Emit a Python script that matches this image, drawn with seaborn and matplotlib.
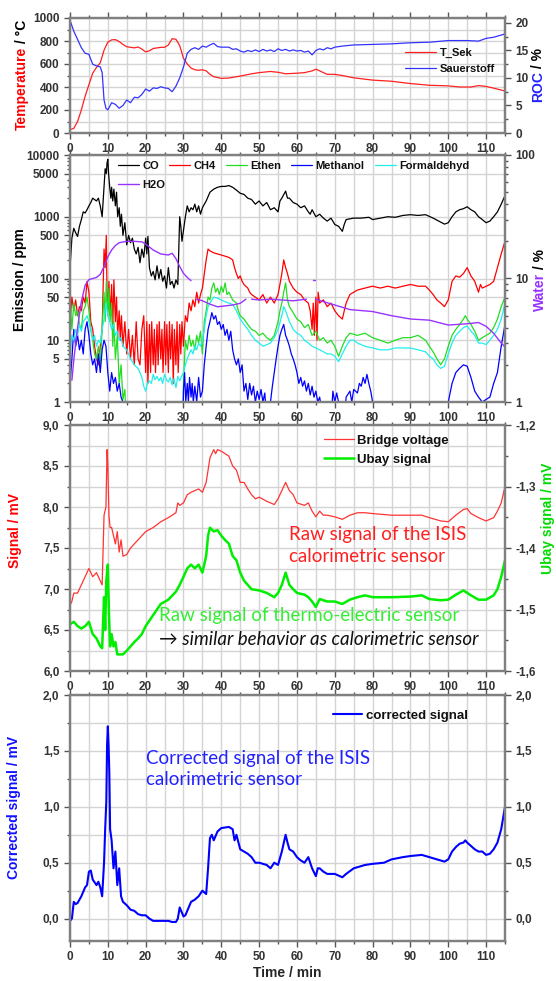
import numpy as np
import pandas as pd
import matplotlib
matplotlib.use('Agg')
import matplotlib.pyplot as plt
import seaborn as sns
from matplotlib.ticker import MultipleLocator, FixedLocator, FuncFormatter, NullFormatter

sns.set_style('ticks')
plt.rcParams['font.family'] = ['Liberation Sans', 'DejaVu Sans']
plt.rcParams['font.weight'] = 'bold'

# ---- panel 1: temperature / oxygen ----
T_SEK = [(0, 30), (1, 40), (2, 100), (3, 200), (4, 320), (5, 420), (6, 520), (7, 570), (8, 610),
         (9, 720), (10, 790), (11, 810), (12, 812), (13, 795), (14, 770), (15, 750), (16, 745),
         (17, 740), (18, 748), (19, 730), (20, 705), (21, 715), (22, 735), (23, 740), (24, 745),
         (25, 745), (26, 765), (27, 820), (28, 815), (29, 760), (30, 650), (31, 600), (32, 565),
         (33, 550), (34, 545), (35, 550), (36, 540), (37, 510), (38, 490), (40, 475), (42, 478),
         (45, 495), (48, 515), (50, 525), (53, 535), (55, 528), (57, 515), (60, 520), (62, 525),
         (64, 540), (65, 555), (66, 540), (68, 510), (70, 510), (72, 500), (75, 480), (80, 460),
         (85, 450), (90, 430), (95, 415), (100, 410), (103, 400), (106, 400), (108, 412),
         (110, 405), (112, 390), (115, 365)]
SAUERSTOFF = [(0, 20.5), (1, 18.5), (2, 17), (3, 15.5), (4, 14.5), (5, 14.3), (6, 12.5), (7, 12.2),
              (8, 12), (8.5, 11), (9, 6), (9.5, 4.5), (10, 4.2), (11, 5.5), (12, 5.2), (13, 4.5),
              (14, 5), (15, 6), (16, 5.5), (17, 6.5), (18, 6.4), (19, 7), (20, 8), (21, 7.6),
              (22, 8.2), (23, 8.1), (24, 8.4), (25, 8.2), (26, 8.1), (27, 7.5), (28, 8.5), (29, 10),
              (30, 12), (31, 14.5), (32, 15.2), (33, 15.5), (34, 15.2), (35, 15.8), (36, 15.6),
              (37, 16), (38, 16.3), (39, 15.7), (40, 15.6), (42, 15.6), (43, 15.2), (44, 15.3),
              (45, 14.9), (46, 14.7), (47, 15), (48, 14.8), (49, 15.1), (50, 14.8), (51, 15.2),
              (52, 14.9), (53, 15.1), (54, 14.8), (55, 15.3), (56, 15), (57, 15.2), (58, 14.9),
              (59, 15.1), (60, 14.9), (61, 15), (62, 14.7), (63, 14.9), (64, 14.2), (65, 15),
              (66, 15.3), (67, 15.1), (68, 15.5), (69, 15.3), (70, 15.6), (72, 15.8), (75, 16),
              (80, 16.1), (85, 16.2), (90, 16.4), (95, 16.5), (100, 16.8), (105, 16.8),
              (108, 16.7), (110, 17.2), (112, 17.4), (115, 18)]

# ---- panel 2: emissions (ppm) and water (%) ----
CO = [(0, 150), (0.5, 450), (1, 650), (1.5, 550), (2, 480), (2.5, 700), (3, 900), (3.5, 1200),
      (4, 1150), (4.5, 1300), (5, 1500), (5.5, 1700), (6, 2000), (6.5, 1900), (7, 1800), (7.5, 2000),
      (8, 1500), (8.5, 1000), (9, 3000), (9.3, 6000), (9.6, 5000), (9.8, 7500), (10, 8500),
      (10.2, 5000), (10.5, 3000), (10.8, 2000), (11, 3000), (11.3, 1800), (11.6, 2800), (12, 1500),
      (12.3, 2500), (12.6, 1000), (13, 1400), (13.3, 700), (13.6, 1100), (14, 500), (14.5, 800),
      (15, 350), (15.5, 500), (16, 380), (16.5, 450), (17, 300), (17.5, 250), (18, 320), (18.5, 180),
      (19, 300), (19.5, 220), (20, 450), (20.3, 250), (20.6, 480), (21, 150), (21.5, 110), (22, 130),
      (22.5, 95), (23, 160), (23.5, 100), (24, 140), (24.5, 90), (25, 110), (25.5, 70), (26, 150),
      (26.5, 80), (27, 90), (27.5, 70), (28, 95), (28.5, 80), (29, 1000), (29.3, 700), (29.6, 400),
      (30, 600), (30.5, 1000), (31, 1500), (31.5, 1200), (32, 1400), (32.5, 1300), (33, 1600),
      (33.5, 1200), (34, 1500), (34.5, 1100), (35, 1400), (36, 1800), (37, 2500), (38, 2800),
      (39, 3000), (40, 3100), (41, 3100), (42, 3200), (43, 3000), (44, 2700), (45, 2400), (46, 2300),
      (47, 2000), (48, 1900), (49, 1600), (50, 1800), (51, 1500), (52, 1700), (53, 1300), (54, 1400),
      (55, 1200), (55.5, 1800), (56, 2000), (57, 2600), (57.5, 2000), (58, 2000), (59, 1700),
      (60, 1600), (61, 1400), (62, 1500), (63, 1200), (63.5, 1100), (64, 1300), (65, 1000),
      (66, 1100), (67, 950), (68, 850), (69, 950), (70, 750), (71, 700), (72, 580), (72.5, 750),
      (73, 900), (75, 950), (77, 950), (79, 980), (80, 900), (82, 950), (84, 1000), (86, 980),
      (88, 1050), (90, 1080), (92, 1050), (94, 1080), (96, 950), (98, 820), (99, 760), (100, 800),
      (101, 1000), (102, 1200), (103, 1300), (104, 1350), (105, 1450), (106, 1300), (107, 1200),
      (108, 1000), (109, 900), (110, 800), (111, 850), (112, 1000), (113, 1200), (114, 1600),
      (115, 2200)]
CH4 = [(0, 20), (0.5, 50), (1, 30), (1.5, 45), (2, 25), (2.5, 35), (3, 30), (3.5, 50), (4, 40),
       (4.5, 90), (5, 60), (5.5, 20), (6, 15), (6.5, 8), (7, 5), (7.5, 4), (8, 8), (8.5, 15), (9, 300),
       (9.3, 150), (9.6, 500), (9.8, 50), (10, 30), (10.3, 90), (10.6, 25), (11, 80), (11.3, 15),
       (11.6, 95), (12, 20), (12.3, 50), (12.6, 12), (13, 30), (13.3, 10), (13.6, 25), (14, 8),
       (14.5, 20), (15, 6), (15.5, 15), (16, 5), (16.5, 12), (17, 4), (17.5, 20), (18, 5), (18.5, 4),
       (19, 15), (19.5, 25), (20, 3), (20.3, 20), (20.6, 2), (21, 18), (21.3, 3), (21.6, 20), (22, 4),
       (22.3, 15), (22.6, 3), (23, 18), (23.3, 4), (23.6, 20), (24, 5), (24.3, 15), (24.6, 3),
       (25, 20), (25.3, 4), (25.6, 18), (26, 3), (26.3, 20), (26.6, 5), (27, 18), (27.3, 2),
       (27.6, 15), (28, 4), (28.3, 20), (28.6, 3), (29, 18), (29.3, 6), (29.6, 20), (30, 8),
       (30.5, 25), (31, 20), (31.5, 40), (32, 30), (32.5, 45), (33, 35), (33.5, 60), (34, 40),
       (34.5, 55), (35, 70), (35.5, 120), (36, 200), (36.5, 300), (37, 280), (38, 260), (39, 250),
       (40, 240), (41, 230), (42, 220), (43, 200), (43.5, 150), (44, 120), (44.5, 100), (45, 110),
       (45.5, 90), (46, 80), (47, 70), (47.5, 60), (48, 55), (49, 50), (50, 45), (51, 55), (52, 40),
       (53, 50), (54, 40), (55, 55), (55.5, 80), (56, 120), (56.5, 200), (57, 150), (57.5, 120),
       (58, 90), (59, 70), (60, 60), (61, 55), (62, 45), (63, 40), (63.5, 30), (64, 15), (64.3, 40),
       (64.6, 12), (65, 50), (65.3, 10), (65.6, 60), (66, 40), (67, 45), (68, 35), (69, 40), (70, 30),
       (71, 25), (72, 22), (72.5, 30), (73, 40), (74, 55), (75, 60), (76, 65), (78, 70), (80, 75),
       (82, 70), (84, 75), (86, 70), (88, 75), (90, 80), (92, 75), (94, 75), (95, 65), (96, 55),
       (97, 45), (98, 40), (99, 35), (100, 45), (101, 90), (102, 110), (103, 105), (104, 120),
       (105, 150), (106, 110), (107, 90), (108, 60), (108.5, 80), (109, 70), (110, 75), (111, 80),
       (112, 90), (113, 150), (114, 250), (115, 400)]
ETHEN = [(0, 50), (0.5, 15), (1, 40), (1.5, 25), (2, 30), (2.5, 18), (3, 15), (3.5, 30), (4, 35),
         (4.5, 50), (5, 30), (5.5, 15), (6, 10), (6.5, 6), (7, 5), (7.5, 8), (8, 4), (8.5, 15), (9, 60),
         (9.3, 20), (9.6, 90), (10, 25), (10.3, 70), (10.6, 20), (11, 40), (11.3, 8), (11.6, 20),
         (12, 5), (12.5, 12), (13, 2), (13.5, 4), (14, 1.1), (14.5, 1.6), (15, 0.3), (29.8, 0.3),
         (30, 2), (30.5, 10), (31, 7), (31.5, 12), (32, 8), (32.5, 10), (33, 7), (33.5, 12), (34, 9),
         (34.5, 14), (35, 6), (35.5, 20), (36, 30), (36.5, 50), (37, 45), (37.5, 70), (38, 85),
         (38.5, 60), (39, 70), (39.5, 55), (40, 75), (40.5, 60), (41, 85), (41.5, 55), (42, 60),
         (43, 45), (44, 40), (44.5, 30), (45, 25), (46, 22), (47, 18), (48, 15), (49, 14), (50, 12),
         (51, 13), (52, 11), (53, 10), (54, 12), (55, 20), (55.5, 30), (56, 40), (56.5, 60), (57, 85),
         (57.5, 45), (58, 35), (59, 28), (60, 22), (61, 20), (62, 16), (63, 18), (64, 12), (65, 14),
         (66, 10), (67, 11), (68, 9), (69, 10), (70, 8), (71, 5.5), (72, 8), (73, 11), (74, 13),
         (76, 12), (78, 13), (80, 11), (82, 10), (84, 9), (86, 10), (88, 11), (90, 11), (92, 12),
         (94, 10), (95, 8), (96, 6.5), (97, 5), (98, 4), (98.5, 4.5), (99, 5), (100, 8), (101, 12),
         (102, 15), (103, 18), (104, 22), (104.5, 25), (105, 22), (106, 18), (107, 14), (108, 10),
         (109, 11), (110, 12), (111, 13), (112, 16), (113, 22), (114, 35), (115, 50)]
METHANOL = [(0, 2), (0.5, 5), (1, 15), (1.5, 8), (2, 12), (2.5, 7), (3, 10), (3.5, 6), (4, 15),
            (4.5, 20), (5, 12), (5.5, 6), (6, 4), (6.5, 5), (7, 3), (7.5, 6), (8, 3), (8.5, 7), (9, 10),
            (9.5, 8), (10, 3), (10.5, 1.5), (11, 3), (11.5, 2), (12, 2.5), (12.5, 1.5), (13, 2),
            (13.5, 1.2), (14, 1), (14.5, 0.3), (29.8, 0.3), (30, 1.5), (30.3, 3), (30.6, 1), (31, 2),
            (31.3, 1), (31.6, 2.5), (32, 1.2), (32.3, 2), (32.6, 1), (33, 1.8), (33.5, 1), (34, 2.5),
            (34.5, 1.2), (35, 1.5), (35.5, 4), (36, 8), (36.5, 15), (37, 20), (37.5, 28), (38, 22),
            (38.5, 25), (39, 18), (39.5, 20), (40, 15), (40.5, 18), (41, 12), (41.5, 15), (42, 10),
            (42.5, 14), (43, 7), (43.5, 5), (44, 4), (44.5, 5), (45, 3), (45.5, 4), (46, 1.5),
            (46.5, 2), (47, 1.1), (47.5, 2), (48, 1.3), (48.5, 1.8), (49, 1), (49.5, 1.5), (50, 1.1),
            (50.5, 1.6), (51, 1), (51.5, 1.4), (52, 0.5), (53, 1), (53.5, 1.8), (54, 3), (54.5, 5),
            (55, 8), (55.5, 12), (56, 15), (56.5, 18), (57, 12), (57.5, 10), (58, 8), (58.5, 6),
            (59, 5), (59.5, 4), (60, 3), (60.5, 2), (61, 2.5), (61.5, 1.8), (62, 2.2), (62.5, 1.5),
            (63, 2), (63.5, 1.3), (64, 1.8), (64.5, 1.2), (65, 1.5), (65.5, 1), (66, 1.2), (67, 0.5),
            (69, 0.5), (69.5, 1.5), (70, 1), (70.5, 1.4), (71, 1), (71.5, 0.5), (72.5, 0.5), (73, 1.2),
            (74, 1.5), (74.5, 1), (75, 1.6), (76, 1.4), (76.5, 2), (77, 1.8), (77.5, 2.5), (78, 2),
            (78.5, 2.8), (79, 2), (79.5, 1.5), (80, 1), (80.5, 0.5), (99.5, 0.5), (100, 1), (101, 2),
            (102, 3), (103, 3.5), (104, 4), (105, 3.8), (106, 2.5), (107, 1.5), (108, 1.2), (109, 1),
            (110, 1.1), (111, 1.2), (112, 2), (113, 3), (114, 8), (115, 18)]
FORMALDEHYD = [(0, 5), (0.5, 12), (1, 10), (1.5, 15), (2, 12), (2.5, 18), (3, 14), (3.5, 20), (4, 22),
               (4.5, 25), (5, 20), (5.5, 15), (6, 10), (6.5, 12), (7, 8), (7.5, 10), (8, 9), (8.5, 15),
               (9, 22), (9.5, 40), (10, 25), (10.5, 20), (11, 15), (11.5, 18), (12, 12), (12.5, 14),
               (13, 10), (13.5, 11), (14, 8), (15, 7), (16, 5), (17, 4), (18, 3.5), (18.5, 3), (19, 2.5),
               (19.5, 1.8), (20, 1.5), (20.5, 2), (21, 2.2), (21.5, 2), (22, 2.8), (22.5, 2.3), (23, 2.6),
               (23.5, 2.2), (24, 2.5), (24.5, 2), (25, 2.8), (25.5, 2.3), (26, 2.1), (26.5, 2.5),
               (27, 1.9), (27.5, 2.4), (28, 1.7), (28.5, 2.6), (29, 2.2), (29.5, 2.6), (30, 3), (30.5, 4),
               (31, 5), (31.5, 6), (32, 7), (32.5, 6), (33, 8), (33.5, 7), (34, 9), (34.5, 8), (35, 10),
               (35.5, 15), (36, 25), (36.5, 35), (37, 40), (38, 50), (39, 48), (40, 45), (41, 42),
               (42, 40), (43, 38), (44, 30), (45, 22), (46, 18), (47, 15), (48, 12), (49, 10), (50, 9),
               (51, 8), (52, 8.5), (53, 9), (54, 11), (55, 15), (56, 25), (56.5, 35), (57, 30), (58, 20),
               (59, 15), (60, 13), (61, 12), (62, 10), (63, 9), (64, 8), (65, 7.5), (66, 7), (67, 6.5),
               (68, 6), (69, 6), (70, 5.5), (71, 4.5), (72, 6), (73, 8), (74, 10), (75, 10), (76, 9),
               (78, 8), (80, 7.5), (82, 7), (84, 7), (86, 7.5), (88, 7.5), (90, 7.5), (92, 7), (94, 6.5),
               (95, 5.5), (96, 5), (97, 4), (98, 3.5), (99, 3.8), (100, 6), (101, 9), (102, 12), (103, 14),
               (104, 16), (105, 17), (106, 14), (107, 12), (108, 9), (109, 9), (110, 8.5), (111, 10),
               (112, 12), (113, 15), (114, 22), (115, 40)]
# water content in %, split into the recorded segments
H2O_SEG = [
    [(0.5, 1.5), (1, 2.2), (2, 4), (3, 6.5), (4, 8.8), (5, 9.8), (6, 10), (7, 10.2), (8, 10.8),
     (9, 12.5), (10, 15), (11, 17), (12, 18.5), (13, 19.5), (15, 20), (17, 20), (19, 19.8),
     (20, 19), (22, 17), (24, 15.8), (26, 15.5), (27, 16), (28, 14.5), (29, 12.5), (30, 11),
     (31, 10.2), (32, 9.6)],
    [(33.5, 6.8), (35, 6.6), (37, 6.2), (39, 5.9), (41, 6), (43, 6.1), (45, 6.3), (46.5, 6.8)],
    [(48, 6.8), (50, 6.7), (53, 6.8), (56, 6.7), (59, 6.6), (62.5, 6.8)],
    [(64.2, 9.8), (64.8, 9.8)],
    [(65, 6.8), (67, 6.5), (70, 6.1), (74, 5.6), (80, 5.4), (85, 5.0), (90, 4.7), (95, 4.6),
     (100, 4.2), (105, 4.3), (108, 4.4), (110, 4.1), (112, 3.6), (114, 3.0), (115, 2.8)],
]

# ---- panel 3: raw signals ----
BRIDGE = [(0, 6.8), (0.5, 6.85), (1, 6.95), (2, 6.95), (3, 7.05), (4, 7.15), (5, 7.25), (5.5, 7.2),
          (6, 7.15), (7, 7.2), (8, 7.1), (8.5, 7.05), (9, 7.9), (9.5, 8.0), (9.8, 8.7), (10, 8.5),
          (10.3, 7.9), (10.6, 7.75), (11, 7.75), (12, 7.55), (12.5, 7.7), (13, 7.45), (13.5, 7.6),
          (14, 7.4), (15, 7.42), (16, 7.5), (17, 7.55), (18, 7.6), (20, 7.7), (22, 7.75), (24, 7.82),
          (26, 7.87), (28, 7.93), (28.5, 8.05), (29, 8.02), (30, 8.05), (31, 8.15), (32, 8.18),
          (33, 8.2), (34, 8.22), (35, 8.18), (36, 8.3), (37, 8.6), (38, 8.7), (38.5, 8.65), (39, 8.7),
          (40, 8.68), (41, 8.65), (42, 8.62), (43, 8.5), (44, 8.45), (45, 8.3), (46, 8.3), (47, 8.22),
          (48, 8.15), (49, 8.1), (50, 8.12), (52, 8.07), (53, 8.05), (54, 8.03), (55, 8.1), (56, 8.2),
          (57, 8.3), (58, 8.2), (59, 8.15), (60, 8.05), (62, 8.02), (63, 8.05), (64, 7.95), (65, 7.88),
          (66, 7.95), (67, 7.9), (68, 7.9), (70, 7.88), (72, 7.85), (74, 7.9), (76, 7.93), (78, 7.93),
          (80, 7.92), (85, 7.9), (90, 7.9), (93, 7.9), (95, 7.87), (98, 7.83), (100, 7.82), (102, 7.9),
          (104, 7.97), (105, 7.98), (106, 7.92), (108, 7.87), (110, 7.83), (112, 7.87), (113, 7.95),
          (114, 8.05), (115, 8.25)]
UBAY = [(0, -1.524), (1, -1.52), (2, -1.527), (3, -1.531), (4, -1.527), (5, -1.52), (6, -1.54),
        (7, -1.547), (8, -1.56), (8.5, -1.563), (9, -1.48), (9.3, -1.533), (9.6, -1.453), (10, -1.427),
        (10.3, -1.507), (10.6, -1.56), (11, -1.54), (11.5, -1.56), (12, -1.553), (12.5, -1.573),
        (13, -1.573), (14, -1.573), (15, -1.567), (16, -1.56), (17, -1.553), (18, -1.547), (19, -1.54),
        (20, -1.527), (22, -1.509), (24, -1.491), (26, -1.484), (28, -1.471), (29, -1.46),
        (30, -1.447), (31, -1.433), (32, -1.427), (33, -1.433), (34, -1.427), (35, -1.44),
        (36, -1.413), (36.5, -1.38), (37, -1.367), (38, -1.373), (39, -1.371), (40, -1.38),
        (41, -1.387), (42, -1.393), (43, -1.413), (44, -1.42), (45, -1.44), (46, -1.453), (47, -1.46),
        (48, -1.467), (50, -1.469), (52, -1.473), (54, -1.48), (55, -1.473), (56, -1.46), (57, -1.44),
        (58, -1.46), (59, -1.467), (60, -1.473), (62, -1.476), (63, -1.48), (64, -1.487),
        (65, -1.496), (66, -1.483), (68, -1.487), (70, -1.487), (72, -1.491), (74, -1.484),
        (76, -1.48), (78, -1.477), (80, -1.48), (85, -1.48), (90, -1.479), (93, -1.477), (95, -1.483),
        (98, -1.485), (100, -1.484), (102, -1.476), (104, -1.469), (105, -1.473), (106, -1.477),
        (108, -1.484), (110, -1.484), (112, -1.477), (113, -1.467), (114, -1.447), (115, -1.42)]

# ---- panel 4: corrected signal ----
CORRECTED = [(0, -0.02), (0.5, 0.0), (1, 0.15), (1.5, 0.13), (2, 0.14), (3, 0.2), (4, 0.28),
             (4.5, 0.3), (5, 0.42), (5.5, 0.43), (6, 0.35), (7, 0.3), (7.5, 0.33), (8, 0.28),
             (8.5, 0.2), (9, 0.5), (9.3, 0.8), (9.6, 1.05), (9.8, 1.55), (10, 1.72), (10.2, 1.55),
             (10.4, 1.3), (10.6, 0.8), (11, 0.7), (11.5, 0.45), (12, 0.6), (12.5, 0.3), (13, 0.45),
             (13.5, 0.2), (14, 0.15), (15, 0.12), (16, 0.08), (17, 0.07), (18, 0.04), (19, 0.03),
             (20, 0.03), (21, 0.0), (22, -0.02), (24, -0.02), (26, -0.02), (27, -0.03), (28, -0.03),
             (28.5, 0.0), (29, 0.1), (30, 0.02), (30.5, 0.03), (31, 0.07), (32, 0.15), (33, 0.17),
             (34, 0.2), (35, 0.25), (36, 0.22), (36.5, 0.45), (37, 0.72), (37.5, 0.75), (38, 0.7),
             (39, 0.78), (40, 0.81), (42, 0.82), (43, 0.8), (43.5, 0.7), (44, 0.75), (45, 0.62),
             (46, 0.6), (47, 0.58), (48, 0.55), (49, 0.5), (50, 0.5), (52, 0.48), (53, 0.45), (54, 0.5),
             (55, 0.48), (56, 0.6), (57, 0.75), (57.5, 0.68), (58, 0.62), (59, 0.6), (60, 0.55),
             (61, 0.52), (62, 0.5), (63, 0.55), (64, 0.45), (65, 0.38), (65.5, 0.45), (66, 0.45),
             (67, 0.42), (68, 0.4), (70, 0.4), (72, 0.37), (73, 0.4), (75, 0.45), (78, 0.48), (80, 0.49),
             (83, 0.5), (85, 0.53), (88, 0.55), (90, 0.56), (93, 0.57), (95, 0.55), (98, 0.52),
             (99, 0.51), (100, 0.53), (101, 0.6), (102, 0.64), (103, 0.67), (104, 0.68), (104.5, 0.7),
             (105, 0.68), (106, 0.65), (107, 0.62), (108, 0.6), (109, 0.6), (110, 0.57), (111, 0.58),
             (112, 0.62), (113, 0.68), (114, 0.8), (115, 1.0)]

W, H = 556, 981
fig = plt.figure(figsize=(W / 100, H / 100), dpi=100)


def add_axes(top, bottom):
    return fig.add_axes([70 / W, 1 - bottom / H, 435 / W, (bottom - top) / H])


def draw(ax, pts, color, lw, label=None):
    df = pd.DataFrame(pts, columns=['t', 'v'])
    sns.lineplot(data=df, x='t', y='v', ax=ax, color=color, lw=lw, label=label,
                 estimator=None, sort=False)
    if ax.get_legend() is not None:
        ax.get_legend().remove()
    ax.set_xlabel('')
    ax.set_ylabel('')


comma = FuncFormatter(lambda v, p: f'{v:.1f}'.replace('.', ','))
GRID = '#d4d4d4'


def style(ax, twin=None):
    ax.set_xlim(0, 115)
    ax.xaxis.set_major_locator(MultipleLocator(10))
    ax.xaxis.set_minor_locator(MultipleLocator(5))
    for a in [ax] + ([twin] if twin is not None else []):
        for sp in a.spines.values():
            sp.set_color('#808080')
            sp.set_linewidth(1.6)
        a.tick_params(which='both', direction='out', labelsize=8.5, color='#555555',
                      labelcolor='#333333', width=1)
        a.tick_params(which='major', length=4)
        a.tick_params(which='minor', length=2.5)
    ax.tick_params(which='both', top=True)
    ax.set_axisbelow(True)
    ax.grid(True, which='both', color=GRID, lw=1)


def vlabel(x, yc, parts, size=10):
    texts = [fig.text(x / W, 0, s, color=c, rotation=90, ha='center', va='bottom',
                      fontsize=size, fontweight='bold') for s, c in parts]
    fig.canvas.draw()
    r = fig.canvas.get_renderer()
    hs = [t.get_window_extent(r).height for t in texts]
    y0 = (H - yc) - sum(hs) / 2
    for t, h in zip(texts, hs):
        t.set_position((x / W, y0 / H))
        y0 += h


leg_kw = dict(frameon=False, handletextpad=0.3, borderpad=0, borderaxespad=0, labelspacing=0.5)

# ---------- panel 1 ----------
ax1 = add_axes(18, 133)
ax1b = ax1.twinx()
draw(ax1, T_SEK, '#ff2020', 0.9, 'T_Sek')
draw(ax1b, SAUERSTOFF, '#3333ff', 0.9, 'Sauerstoff')
ax1.set_ylim(0, 1000)
ax1.yaxis.set_major_locator(MultipleLocator(200))
ax1.yaxis.set_minor_locator(MultipleLocator(100))
ax1b.set_ylim(0, 20.9)
ax1b.yaxis.set_major_locator(MultipleLocator(5))
ax1b.yaxis.set_minor_locator(MultipleLocator(2.5))
style(ax1, ax1b)
h = ax1.get_legend_handles_labels()[0] + ax1b.get_legend_handles_labels()[0]
ax1b.legend(h, ['T_Sek', 'Sauerstoff'], loc='upper left', bbox_to_anchor=(0.77, 0.74),
            handlelength=2.8, fontsize=8, **leg_kw)

# ---------- panel 2 ----------
ax2 = add_axes(155, 402)
ax2b = ax2.twinx()
for pts, col, lab in [(CO, '#000000', 'CO'), (CH4, '#ff0000', 'CH4'), (ETHEN, '#22dd22', 'Ethen'),
                      (METHANOL, '#0000ff', 'Methanol'), (FORMALDEHYD, '#22eeee', 'Formaldehyd')]:
    draw(ax2, pts, col, 0.9, lab)
for i, seg in enumerate(H2O_SEG):
    draw(ax2b, seg, '#9933ff', 1.0, 'H2O' if i == 0 else None)
ax2.set_yscale('log')
ax2.set_ylim(1, 10000)
dec = [1, 10, 100, 1000]
ax2.yaxis.set_major_locator(FixedLocator([d * m for d in dec for m in (1, 5)] + [10000]))
ax2.yaxis.set_minor_locator(FixedLocator([d * m for d in dec for m in (2, 3, 4, 6, 7, 8, 9)]))
ax2.yaxis.set_major_formatter(FuncFormatter(lambda v, p: f'{v:.0f}'))
ax2.yaxis.set_minor_formatter(NullFormatter())
ax2b.set_yscale('log')
ax2b.set_ylim(1, 100)
ax2b.yaxis.set_major_locator(FixedLocator([1, 10, 100]))
ax2b.yaxis.set_minor_locator(FixedLocator([d * m for d in (1, 10) for m in range(2, 10)]))
ax2b.yaxis.set_major_formatter(FuncFormatter(lambda v, p: f'{v:.0f}'))
ax2b.yaxis.set_minor_formatter(NullFormatter())
style(ax2, ax2b)
ax2.yaxis.grid(False, which='minor')
ax2.yaxis.grid(True, which='major', color=GRID, lw=1)
h, l = ax2.get_legend_handles_labels()
ax2.legend(h, l, loc='upper left', bbox_to_anchor=(0.11, 0.975), ncol=5, handlelength=1.9,
           columnspacing=0.9, fontsize=8, **leg_kw)
h, l = ax2b.get_legend_handles_labels()
ax2b.legend(h, l, loc='upper left', bbox_to_anchor=(0.11, 0.9), handlelength=1.9, fontsize=8,
            **leg_kw)

# ---------- panel 3 ----------
ax3 = add_axes(425, 671)
ax3b = ax3.twinx()
draw(ax3, BRIDGE, '#ff3333', 0.9, 'Bridge voltage')
draw(ax3b, UBAY, '#00ee00', 1.8, 'Ubay signal')
ax3.set_ylim(6, 9)
ax3.yaxis.set_major_locator(MultipleLocator(0.5))
ax3.yaxis.set_minor_locator(MultipleLocator(0.25))
ax3.yaxis.set_major_formatter(comma)
ax3b.set_ylim(-1.6, -1.2)
ax3b.yaxis.set_major_locator(MultipleLocator(0.1))
ax3b.yaxis.set_minor_locator(MultipleLocator(0.05))
ax3b.yaxis.set_major_formatter(comma)
style(ax3, ax3b)
h = ax3.get_legend_handles_labels()[0] + ax3b.get_legend_handles_labels()[0]
ax3b.legend(h, ['Bridge voltage', 'Ubay signal'], loc='upper left', bbox_to_anchor=(0.585, 0.96),
            handlelength=2.2, fontsize=9.5, **leg_kw)
note = dict(fontsize=13.5, family=['Lato', 'DejaVu Sans'], fontweight='normal', linespacing=1.3)
ax3.text(58, 7.53, 'Raw signal of the ISIS\ncalorimetric sensor', color='#ff2020', va='center', **note)
ax3.text(23.6, 6.68, 'Raw signal of thermo-electric sensor', color='#33ee33', va='center', **note)
ax3.text(23.6, 6.38, '\u2192 similar behavior as calorimetric sensor', color='#111111', va='center',
         style='italic', **note)

# ---------- panel 4 ----------
ax4 = add_axes(695, 941)
ax4b = ax4.twinx()
draw(ax4, CORRECTED, '#0000ff', 1.5, 'corrected signal')
for a in (ax4, ax4b):
    a.set_ylim(-0.2, 2.0)
    a.yaxis.set_major_locator(MultipleLocator(0.5))
    a.yaxis.set_minor_locator(MultipleLocator(0.25))
    a.yaxis.set_major_formatter(comma)
style(ax4, ax4b)
ax4.legend(loc='upper left', bbox_to_anchor=(0.605, 0.94), handlelength=2.2, fontsize=9.5, **leg_kw)
ax4.text(20, 1.335, 'Corrected signal of the ISIS\ncalorimetric sensor', color='#2222ff',
         va='center', **note)
ax4.set_xlabel('Time / min', fontsize=10, fontweight='bold', labelpad=2)

for a in (ax1, ax1b, ax2, ax2b, ax3, ax3b, ax4, ax4b):
    leg = a.get_legend()
    if leg is not None:
        for t in leg.get_texts():
            t.set_color('#111111')

# axis titles
vlabel(22, 75, [('Temperature', '#ff0000'), (' / \u00b0C', '#000000')])
vlabel(538, 75, [('ROC', '#2222ff'), (' / %', '#000000')])
vlabel(20, 280, [('Emission / ppm', '#000000')])
vlabel(540, 280, [('Water', '#9933ff'), (' / %', '#000000')])
vlabel(15, 530, [('Signal / mV', '#ff0000')])
vlabel(548, 518, [('Ubay signal / mV', '#00dd00')])
vlabel(14, 807, [('Corrected signal / mV', '#1111ff')])

fig.savefig('out.png', dpi=100)
